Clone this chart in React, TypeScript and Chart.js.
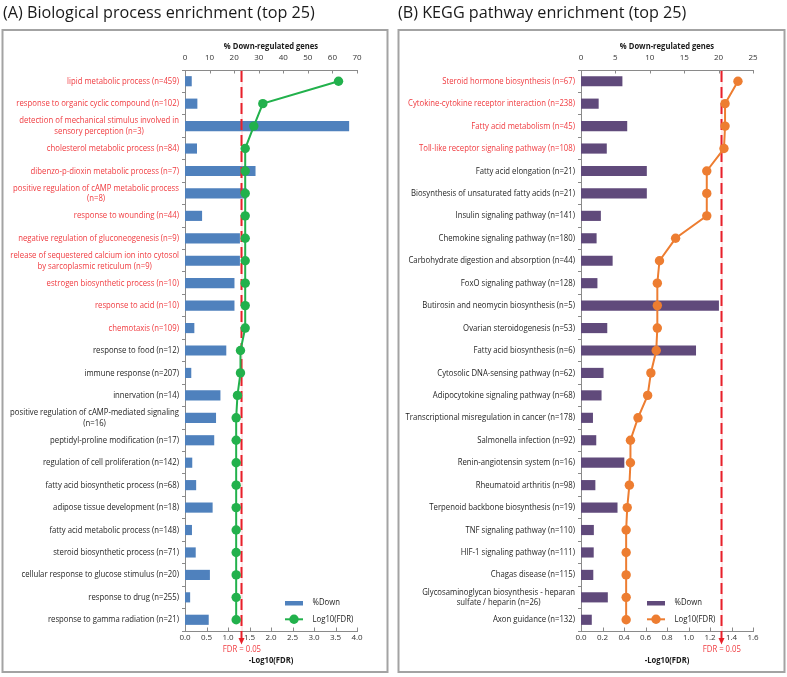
import React, { useEffect, useRef } from 'react';
import { Chart, registerables } from 'chart.js';

Chart.register(...registerables);

const FONT = '"Open Sans", "DejaVu Sans", sans-serif';
const AXIS = '#8a8a8a';
const TICK_TXT = '#333333';
const TXT = '#1e1e1e';
const RED_TXT = '#f03a3f';
const RED_LINE = '#e8202a';
const FDR_THRESHOLD = 0.05;
const SQUEEZE = 0.86;

// ---------- Panel A: Biological process ----------
const bpTitle = '(A) Biological process enrichment (top 25)';
const bpCategories: (string | string[])[] = [
  'lipid metabolic process (n=459)',
  'response to organic cyclic compound (n=102)',
  ['detection of mechanical stimulus involved in', 'sensory perception (n=3)'],
  'cholesterol metabolic process (n=84)',
  'dibenzo-p-dioxin metabolic process (n=7)',
  ['positive regulation of cAMP metabolic process', '(n=8)'],
  'response to wounding (n=44)',
  'negative regulation of gluconeogenesis (n=9)',
  ['release of sequestered calcium ion into cytosol', 'by sarcoplasmic reticulum (n=9)'],
  'estrogen biosynthetic process (n=10)',
  'response to acid (n=10)',
  'chemotaxis (n=109)',
  'response to food (n=12)',
  'immune response (n=207)',
  'innervation (n=14)',
  ['positive regulation of cAMP-mediated signaling', '(n=16)'],
  'peptidyl-proline modification (n=17)',
  'regulation of cell proliferation (n=142)',
  'fatty acid biosynthetic process (n=68)',
  'adipose tissue development (n=18)',
  'fatty acid metabolic process (n=148)',
  'steroid biosynthetic process (n=71)',
  'cellular response to glucose stimulus (n=20)',
  'response to drug (n=255)',
  'response to gamma radiation (n=21)',
];
const bpRedCount = 12;
const bpPctDown = [
  2.61, 4.9, 66.67, 4.76, 28.57, 25.0, 6.82, 22.22, 22.22, 20.0, 20.0, 3.67, 16.67,
  2.42, 14.29, 12.5, 11.76, 2.82, 4.41, 11.11, 2.7, 4.23, 10.0, 1.96, 9.52,
];
const bpLogFdr = [
  3.57, 1.81, 1.6, 1.4, 1.4, 1.4, 1.4, 1.4, 1.4, 1.4, 1.4, 1.4, 1.29,
  1.29, 1.22, 1.19, 1.19, 1.19, 1.19, 1.19, 1.19, 1.19, 1.19, 1.19, 1.19,
];
const bpPctTicks = { min: 0, max: 70, step: 10 };
const bpFdrTicks = { min: 0, max: 4, step: 0.5 };

// ---------- Panel B: KEGG ----------
const keggTitle = '(B) KEGG pathway enrichment (top 25)';
const keggCategories: (string | string[])[] = [
  'Steroid hormone biosynthesis (n=67)',
  'Cytokine-cytokine receptor interaction (n=238)',
  'Fatty acid metabolism (n=45)',
  'Toll-like receptor signaling pathway (n=108)',
  'Fatty acid elongation (n=21)',
  'Biosynthesis of unsaturated fatty acids (n=21)',
  'Insulin signaling pathway (n=141)',
  'Chemokine signaling pathway (n=180)',
  'Carbohydrate digestion and absorption (n=44)',
  'FoxO signaling pathway (n=128)',
  'Butirosin and neomycin biosynthesis (n=5)',
  'Ovarian steroidogenesis (n=53)',
  'Fatty acid biosynthesis (n=6)',
  'Cytosolic DNA-sensing pathway (n=62)',
  'Adipocytokine signaling pathway (n=68)',
  'Transcriptional misregulation in cancer (n=178)',
  'Salmonella infection (n=92)',
  'Renin-angiotensin system (n=16)',
  'Rheumatoid arthritis (n=98)',
  'Terpenoid backbone biosynthesis (n=19)',
  'TNF signaling pathway (n=110)',
  'HIF-1 signaling pathway (n=111)',
  'Chagas disease (n=115)',
  ['Glycosaminoglycan biosynthesis - heparan', 'sulfate / heparin (n=26)'],
  'Axon guidance (n=132)',
];
const keggRedCount = 4;
const keggPctDown = [
  5.97, 2.52, 6.67, 3.7, 9.52, 9.52, 2.84, 2.22, 4.55, 2.34, 20.0, 3.77, 16.67,
  3.23, 2.94, 1.69, 2.17, 6.25, 2.04, 5.26, 1.82, 1.8, 1.74, 3.85, 1.52,
];
const keggLogFdr = [
  1.46, 1.34, 1.34, 1.33, 1.17, 1.17, 1.17, 0.88, 0.73, 0.71, 0.71, 0.71, 0.7,
  0.65, 0.62, 0.53, 0.46, 0.46, 0.45, 0.43, 0.42, 0.42, 0.42, 0.42, 0.42,
];
const keggPctTicks = { min: 0, max: 25, step: 5 };
const keggFdrTicks = { min: 0, max: 1.6, step: 0.2 };

const seriesNames = ['%Down', 'Log10(FDR)'];
const topAxisTitle = '% Down-regulated genes';
const bottomAxisTitle = '-Log10(FDR)';
const thresholdLabel = 'FDR = 0.05';

type PanelProps = {
  left: number;
  width: number;
  title: string;
  titleX: number;
  boxX: number;
  boxW: number;
  plotLeft: number;
  padRight: number;
  categories: (string | string[])[];
  redCount: number;
  pct: number[];
  fdr: number[];
  pctTicks: { min: number; max: number; step: number };
  fdrTicks: { min: number; max: number; step: number };
  barColor: string;
  lineColor: string;
  legendX: number;
};

function sText(
  ctx: CanvasRenderingContext2D,
  text: string,
  x: number,
  y: number,
  align: CanvasTextAlign,
  font: string,
  color: string
) {
  ctx.save();
  ctx.translate(x, y);
  ctx.scale(SQUEEZE, 1);
  ctx.font = font;
  ctx.fillStyle = color;
  ctx.textAlign = align;
  ctx.textBaseline = 'middle';
  ctx.fillText(text, 0, 0);
  ctx.restore();
}

function Panel(p: PanelProps) {
  const ref = useRef<HTMLCanvasElement>(null);
  useEffect(() => {
    const canvas = ref.current;
    if (!canvas) return;

    const drawThreshold = (chart: any) => {
      const ctx = chart.ctx;
      const xs = chart.scales.xBot;
      const area = chart.chartArea;
      const x = Math.round(xs.getPixelForValue(-Math.log10(FDR_THRESHOLD))) + 0.5;
      ctx.save();
      ctx.strokeStyle = 'rgba(255,120,130,0.35)';
      ctx.lineWidth = 1;
      ctx.beginPath();
      ctx.moveTo(x + 0.5, area.top);
      ctx.lineTo(x + 0.5, area.bottom);
      ctx.stroke();
      ctx.strokeStyle = RED_LINE;
      ctx.lineWidth = 2;
      ctx.setLineDash([11, 5]);
      ctx.beginPath();
      ctx.moveTo(x, area.top + 1);
      ctx.lineTo(x, 640);
      ctx.stroke();
      ctx.setLineDash([]);
      ctx.fillStyle = RED_LINE;
      ctx.beginPath();
      ctx.moveTo(x - 3, 638);
      ctx.lineTo(x + 3, 638);
      ctx.lineTo(x, 644.5);
      ctx.closePath();
      ctx.fill();
      ctx.restore();
    };

    const plugin = {
      id: 'panelDecor',
      beforeDatasetDraw(chart: any, args: any) {
        if (args.index === 1) drawThreshold(chart);
      },
      afterDraw(chart: any) {
        const ctx = chart.ctx as CanvasRenderingContext2D;
        const area = chart.chartArea;
        const yS = chart.scales.y;
        const xTop = chart.scales.xTop;
        const xBot = chart.scales.xBot;
        ctx.save();
        // box
        ctx.strokeStyle = '#a3a3a3';
        ctx.lineWidth = 2;
        ctx.strokeRect(p.boxX, 30, p.boxW, 642);
        // title
        ctx.fillStyle = '#1a1a1a';
        ctx.font = `16.2px ${FONT}`;
        ctx.textAlign = 'left';
        ctx.textBaseline = 'alphabetic';
        ctx.fillText(p.title, p.titleX, 18.3);
        // inside tick marks
        ctx.strokeStyle = AXIS;
        ctx.lineWidth = 1;
        ctx.beginPath();
        xTop.ticks.forEach((_: any, i: number) => {
          const x = Math.round(xTop.getPixelForTick(i)) + 0.5;
          ctx.moveTo(x, area.top);
          ctx.lineTo(x, area.top + 3.5);
        });
        xBot.ticks.forEach((_: any, i: number) => {
          const x = Math.round(xBot.getPixelForTick(i)) + 0.5;
          ctx.moveTo(x, area.bottom);
          ctx.lineTo(x, area.bottom - 3.5);
        });
        ctx.stroke();
        // category labels
        const labFont = `9px ${FONT}`;
        ctx.font = labFont;
        p.categories.forEach((lab, i) => {
          const lines = Array.isArray(lab) ? lab : [lab];
          const cy = yS.getPixelForValue(i);
          ctx.font = labFont;
          const w = Math.max(...lines.map((l) => ctx.measureText(l).width)) * SQUEEZE;
          const cx = area.left - 6 - w / 2;
          const col = i < p.redCount ? RED_TXT : TXT;
          lines.forEach((l, j) => {
            sText(ctx, l, cx, cy + (j - (lines.length - 1) / 2) * 10.6, 'center', labFont, col);
          });
        });
        // axis titles
        const cxPlot = (area.left + area.right) / 2;
        sText(ctx, topAxisTitle, cxPlot, 46.5, 'center', `bold 8.9px ${FONT}`, '#1a1a1a');
        sText(ctx, bottomAxisTitle, cxPlot, 660, 'center', `bold 8.9px ${FONT}`, '#1a1a1a');
        sText(
          ctx,
          thresholdLabel,
          xBot.getPixelForValue(-Math.log10(FDR_THRESHOLD)) + 1,
          649,
          'center',
          `9px ${FONT}`,
          RED_TXT
        );
        // legend
        const lx = p.legendX;
        ctx.fillStyle = p.barColor;
        ctx.fillRect(lx, 601, 18, 4.5);
        ctx.strokeStyle = p.lineColor;
        ctx.lineWidth = 2;
        ctx.beginPath();
        ctx.moveTo(lx, 619.3);
        ctx.lineTo(lx + 18, 619.3);
        ctx.stroke();
        ctx.fillStyle = p.lineColor;
        ctx.beginPath();
        ctx.arc(lx + 9, 619.3, 4.7, 0, Math.PI * 2);
        ctx.fill();
        sText(ctx, seriesNames[0], lx + 27.5, 602.8, 'left', `9px ${FONT}`, '#1a1a1a');
        sText(ctx, seriesNames[1], lx + 27.5, 619.5, 'left', `9px ${FONT}`, '#1a1a1a');
        ctx.restore();
      },
    };

    const tickFont = { family: FONT, size: 8 };
    const chart = new Chart(canvas, {
      type: 'bar',
      data: {
        labels: p.categories as any,
        datasets: [
          {
            type: 'bar',
            label: seriesNames[0],
            data: p.pct,
            xAxisID: 'xTop',
            yAxisID: 'y',
            indexAxis: 'y',
            backgroundColor: p.barColor,
            barThickness: 9.5,
            order: 2,
          } as any,
          {
            type: 'line',
            label: seriesNames[1],
            data: p.fdr,
            xAxisID: 'xBot',
            yAxisID: 'y',
            indexAxis: 'y',
            borderColor: p.lineColor,
            backgroundColor: p.lineColor,
            pointBackgroundColor: p.lineColor,
            pointBorderWidth: 0,
            pointRadius: 4.7,
            borderWidth: 2,
            tension: 0,
            order: 1,
          } as any,
        ],
      },
      options: {
        responsive: false,
        animation: false,
        indexAxis: 'y',
        layout: { padding: { left: 0, right: p.padRight, top: 0, bottom: 0 } },
        plugins: { legend: { display: false }, tooltip: { enabled: false } },
        scales: {
          y: {
            type: 'category',
            position: 'left',
            offset: true,
            grid: {
              display: true,
              drawOnChartArea: false,
              drawTicks: true,
              tickLength: 3,
              offset: true,
              color: AXIS,
            },
            border: { color: AXIS, width: 1 },
            ticks: { display: false },
            afterFit: (s: any) => {
              s.width = p.plotLeft;
            },
          },
          xTop: {
            type: 'linear',
            position: 'top',
            min: p.pctTicks.min,
            max: p.pctTicks.max,
            ticks: { stepSize: p.pctTicks.step, font: tickFont, color: TICK_TXT, padding: 7.5 },
            grid: { display: false, drawTicks: false },
            border: { color: AXIS, width: 1 },
            afterFit: (s: any) => {
              s.height = 70;
            },
          },
          xBot: {
            type: 'linear',
            position: 'bottom',
            min: p.fdrTicks.min,
            max: p.fdrTicks.max,
            ticks: {
              stepSize: p.fdrTicks.step,
              font: tickFont,
              color: TICK_TXT,
              padding: 2,
              callback: (v: any) => Number(v).toFixed(1),
            },
            grid: { display: false, drawTicks: false },
            border: { color: AXIS, width: 1 },
            afterFit: (s: any) => {
              s.height = 46;
            },
          },
        },
      } as any,
      plugins: [plugin],
    });
    return () => chart.destroy();
  }, []);

  return (
    <canvas
      ref={ref}
      width={p.width}
      height={677}
      style={{ position: 'absolute', left: p.left, top: 0, width: p.width, height: 677, display: 'block' }}
    />
  );
}

export default function App() {
  return (
    <div style={{ position: 'fixed', left: 0, top: 0, width: 787, height: 677, background: '#ffffff', overflow: 'hidden' }}>
      <Panel
        left={0}
        width={393}
        title={bpTitle}
        titleX={3}
        boxX={2.5}
        boxW={385}
        plotLeft={185}
        padRight={36}
        categories={bpCategories}
        redCount={bpRedCount}
        pct={bpPctDown}
        fdr={bpLogFdr}
        pctTicks={bpPctTicks}
        fdrTicks={bpFdrTicks}
        barColor="#4f81bd"
        lineColor="#22b14c"
        legendX={285}
      />
      <Panel
        left={393}
        width={394}
        title={keggTitle}
        titleX={5}
        boxX={5.5}
        boxW={386}
        plotLeft={188}
        padRight={34}
        categories={keggCategories}
        redCount={keggRedCount}
        pct={keggPctDown}
        fdr={keggLogFdr}
        pctTicks={keggPctTicks}
        fdrTicks={keggFdrTicks}
        barColor="#604a7b"
        lineColor="#ed7d31"
        legendX={254}
      />
    </div>
  );
}
